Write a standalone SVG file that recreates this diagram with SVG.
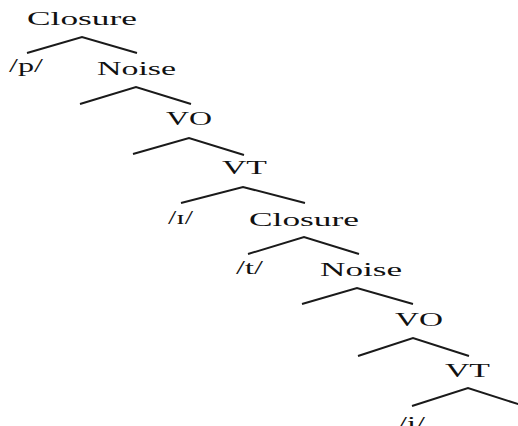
<svg xmlns="http://www.w3.org/2000/svg" width="518" height="426" viewBox="0 0 518 426">
<style>
text{font-family:"Liberation Serif","Times New Roman",serif;font-size:18px;fill:#111;}
.br{fill:none;stroke:#1a1a1a;stroke-width:2;stroke-linejoin:miter;}
</style>
<rect width="518" height="426" fill="#fff"/>
<g id="connectors">
<polyline class="br" points="27,53 82,37 137,53"/>
<polyline class="br" points="80,104 136,87 191,104"/>
<polyline class="br" points="133,154 189,138 244,155"/>
<polyline class="br" points="181,203 243,187 305,203"/>
<polyline class="br" points="248,254 304,237 359,254"/>
<polyline class="br" points="302,304 357,288 413,304"/>
<polyline class="br" points="358,356 413,338 469,356"/>
<polyline class="br" points="412,406 468,388 524,406"/>
</g>
<g id="closure1"><text x="27" y="25" textLength="110" lengthAdjust="spacingAndGlyphs">Closure</text></g>
<g id="p"><text x="9" y="72" textLength="34" lengthAdjust="spacingAndGlyphs">/p/</text></g>
<g id="noise1"><text x="97" y="75" textLength="79" lengthAdjust="spacingAndGlyphs">Noise</text></g>
<g id="vo1"><text x="166" y="125" textLength="46" lengthAdjust="spacingAndGlyphs">VO</text></g>
<g id="vt1"><text x="222" y="174" textLength="45" lengthAdjust="spacingAndGlyphs">VT</text></g>
<g id="iota"><text x="168" y="224" textLength="25" lengthAdjust="spacingAndGlyphs">/ɪ/</text></g>
<g id="closure2"><text x="249" y="226" textLength="110" lengthAdjust="spacingAndGlyphs">Closure</text></g>
<g id="t"><text x="236" y="274" textLength="27" lengthAdjust="spacingAndGlyphs">/t/</text></g>
<g id="noise2"><text x="320" y="276" textLength="82" lengthAdjust="spacingAndGlyphs">Noise</text></g>
<g id="vo2"><text x="395" y="326" textLength="48" lengthAdjust="spacingAndGlyphs">VO</text></g>
<g id="vt2"><text x="445" y="377" textLength="45" lengthAdjust="spacingAndGlyphs">VT</text></g>
<g id="i"><text x="398" y="430" textLength="27" lengthAdjust="spacingAndGlyphs">/i/</text></g>
</svg>
